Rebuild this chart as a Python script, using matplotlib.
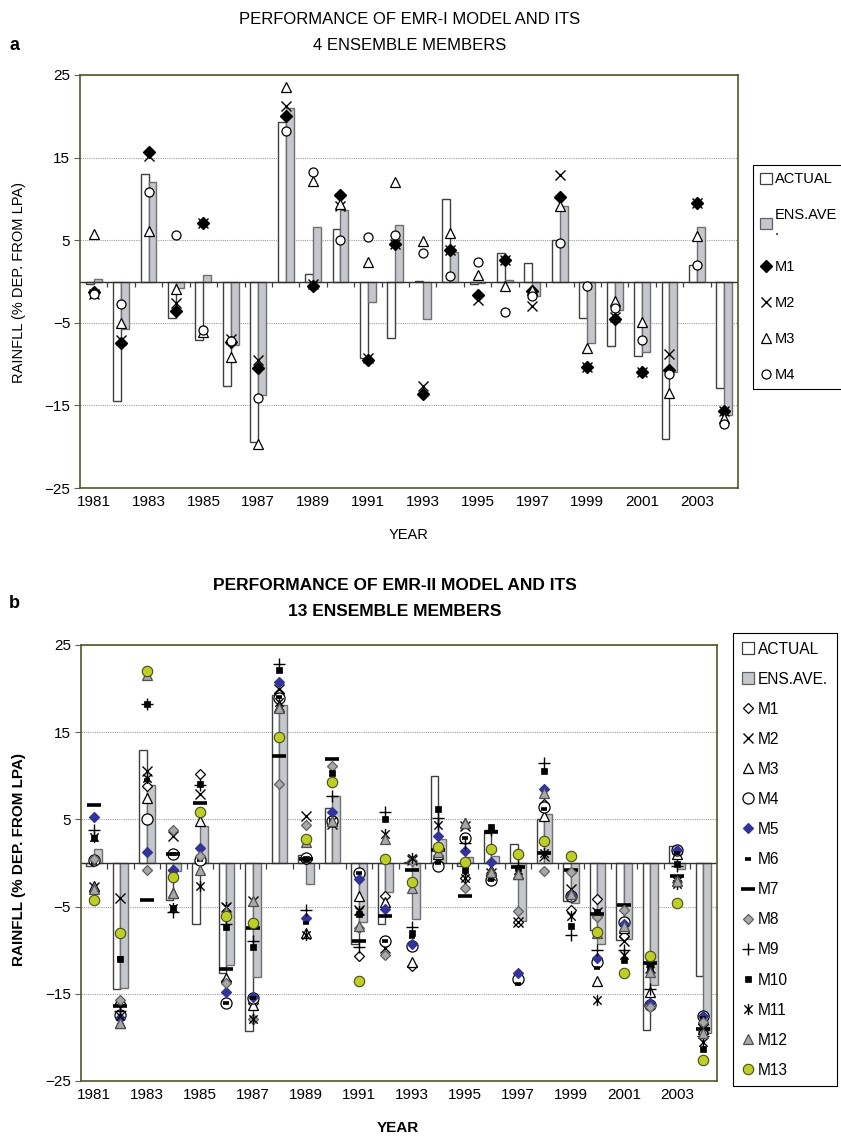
import numpy as np
import matplotlib
matplotlib.use("Agg")
import matplotlib.pyplot as plt
from matplotlib.patches import Patch
from matplotlib.path import Path

plt.rcParams['font.family'] = ['Liberation Sans', 'DejaVu Sans']

years = list(range(1981, 2005))

# ---------------- Panel a data (EMR-I) ----------------
a_actual = [-0.3, -14.5, 13.0, -4.4, -7.1, -12.7, -19.4, 19.3, 0.9, 6.3, -9.3, -6.9,
            0.1, 10.0, -0.3, 3.5, 2.2, 5.0, -4.4, -7.8, -9.0, -19.1, 2.0, -12.9]
a_ens = [0.3, -5.8, 12.0, -0.8, 0.8, -7.7, -13.7, 21.0, 6.6, 8.6, -2.5, 6.9,
         -4.5, 3.6, -0.2, 0.2, -1.8, 9.2, -7.4, -3.5, -8.5, -11.0, 6.6, -16.2]
a_m1 = [-1.3, -7.4, 15.7, -3.6, 7.1, -7.3, -10.5, 20.0, -0.5, 10.5, -9.5, 4.6,
        -13.6, 3.8, -1.6, 2.6, -1.2, 10.2, -10.4, -4.5, -11.0, -10.7, 9.5, -15.7]
a_m2 = [-1.5, -7.1, 15.2, -2.6, 7.1, -7.0, -9.5, 21.2, -0.3, 9.2, -9.3, 4.5,
        -12.6, 3.8, -2.2, 2.6, -3.0, 12.9, -10.4, -4.3, -11.0, -8.8, 9.5, -15.7]
a_m3 = [5.7, -5.0, 6.1, -0.9, -6.1, -9.1, -19.7, 23.6, 12.2, 9.4, 2.4, 12.1,
        4.9, 5.9, 0.8, -0.5, -1.0, 9.1, -8.0, -2.4, -4.9, -13.5, 5.5, -16.5]
a_m4 = [-1.5, -2.7, 10.8, 5.6, -5.9, -7.2, -14.1, 18.2, 13.2, 5.0, 5.4, 5.6,
        3.5, 0.7, 2.4, -3.7, -1.8, 4.7, -0.6, -3.2, -7.1, -11.2, 2.0, -17.2]

# ---------------- Panel b data (EMR-II) ----------------
b_actual = [-0.3, -14.5, 13.0, -4.3, -7.0, -12.6, -19.3, 19.3, 0.9, 6.3, -9.3, -7.0,
            0.1, 10.0, -0.3, 3.4, 2.2, 5.0, -4.4, -7.7, -8.8, -19.2, 2.0, -13.0]
b_ens = [1.6, -14.3, 9.0, -0.9, 4.2, -11.7, -13.1, 18.1, -2.4, 7.7, -6.8, -3.3,
         -6.4, 2.7, 0.7, 0.8, -6.7, 5.6, -4.6, -9.3, -8.7, -14.0, -0.7, -19.5]
b_m1 = [0.3, -16.1, 8.8, -0.8, 10.2, -13.5, -16.0, 19.5, 0.5, 5.0, -10.7, -3.8,
        -11.8, 0.0, -1.7, -1.5, -6.8, 6.8, -5.4, -4.1, -8.4, -16.3, 1.2, -18.5]
b_m2 = [-2.8, -4.0, 10.6, 3.1, 7.9, -5.0, -4.4, 20.0, 5.4, 4.5, -5.4, -9.8,
        0.4, 0.4, 4.2, -1.2, -6.8, 0.8, -3.0, -5.6, -9.0, -12.0, -2.1, -18.8]
b_m3 = [-2.6, -18.4, 7.4, -3.4, 4.8, -13.2, -16.3, 17.9, -8.0, 4.8, -3.8, -4.5,
        -11.4, 1.0, 4.6, -0.8, -1.3, 5.4, -3.4, -13.5, -7.5, -14.8, 1.0, -19.0]
b_m4 = [0.3, -17.4, 5.1, 1.0, 0.3, -16.1, -15.5, 18.9, 0.6, 4.8, -1.1, -8.9,
        -9.5, -0.3, 2.9, -1.9, -13.3, 6.4, -3.8, -11.3, -6.8, -16.3, 1.5, -17.6]
b_m5 = [5.3, -17.8, 1.3, -0.8, 1.7, -14.8, -15.4, 20.8, -6.3, 5.8, -1.8, -5.3,
        -9.3, 3.1, 1.4, 0.1, -12.6, 8.5, -3.7, -10.9, -7.0, -16.1, 1.5, -17.6]
b_m6 = [0.0, -10.9, 9.5, 1.0, 0.3, -16.1, -15.5, 19.0, -6.9, 4.8, -1.1, -8.9,
        -8.5, 0.0, 2.9, -1.9, -13.9, 6.2, -3.8, -12.0, -7.5, -16.5, 1.2, -17.8]
b_m7 = [6.6, -16.4, -4.3, 1.0, 6.9, -12.1, -7.5, 12.3, 0.5, 11.9, -9.0, -6.1,
        -0.8, 1.5, -3.8, 3.6, -0.5, 1.2, -0.8, -5.8, -4.8, -11.5, -1.5, -19.0]
b_m8 = [0.5, -15.7, -0.8, 3.8, 0.8, -13.8, -17.9, 9.1, 4.4, 11.1, -7.4, -10.6,
        0.2, 1.5, -2.9, -1.2, -5.5, -0.9, -1.0, -6.2, -5.4, -16.5, -2.2, -18.2]
b_m9 = [3.8, -17.0, 18.2, -5.6, 8.9, -7.0, -9.0, 22.8, -5.4, 7.7, -9.6, 5.9,
        -7.3, 5.2, 2.3, 3.8, -0.3, 11.5, -8.2, -10.0, -10.0, -14.5, -0.3, -19.8]
b_m10 = [2.9, -11.0, 18.2, -5.2, 9.1, -7.3, -9.6, 22.1, 0.5, 10.3, -5.9, 5.1,
         -8.0, 6.2, -0.8, 4.1, -0.6, 10.5, -7.2, -5.6, -11.1, -12.0, -0.1, -21.3]
b_m11 = [3.0, -17.6, 9.8, -5.2, -2.6, -5.0, -17.9, 18.5, -8.2, 4.8, -5.5, 3.3,
         0.6, 4.4, -1.7, -1.5, -0.8, 1.2, -6.1, -15.7, -10.5, -11.5, -2.4, -20.5]
b_m12 = [-3.0, -18.4, 21.6, -3.4, -0.8, -5.5, -4.4, 17.8, 2.4, 4.8, -7.2, 2.7,
         -2.9, 1.3, 4.6, -1.0, -1.3, 8.0, -3.6, -8.0, -7.2, -12.5, -2.1, -19.5]
b_m13 = [-4.3, -8.0, 22.0, -1.6, 5.9, -6.1, -6.9, 14.4, 2.7, 9.3, -13.5, 0.5,
         -2.2, 1.8, 0.1, 1.6, 1.0, 2.5, 0.8, -7.9, -12.6, -10.7, -4.6, -22.6]

a_labels = ["ACTUAL", "ENS.AVE\n.", "M1", "M2", "M3", "M4"]
b_labels = ["ACTUAL", "ENS.AVE.", "M1", "M2", "M3", "M4", "M5", "M6", "M7",
            "M8", "M9", "M10", "M11", "M12", "M13"]

SPINE = '#55552a'
BARGRAY = '#c4c8cc'
W = 0.29

# asterisk: X with a vertical stroke
ASTER = Path([(0, -1), (0, 1), (-0.75, -0.75), (0.75, 0.75), (-0.75, 0.75), (0.75, -0.75)],
             [Path.MOVETO, Path.LINETO, Path.MOVETO, Path.LINETO, Path.MOVETO, Path.LINETO])

a_styles = [
    dict(marker='D', ms=6.5, mfc='black', mec='black'),
    dict(marker='x', ms=7.5, mfc='black', mec='black', mew=1.0),
    dict(marker='^', ms=7, mfc='white', mec='black', mew=0.9),
    dict(marker='o', ms=6.5, mfc='white', mec='black', mew=0.9),
]
b_styles = [
    dict(marker='D', ms=5.5, mfc='white', mec='black', mew=0.9),
    dict(marker='x', ms=7, mfc='black', mec='black', mew=1.0),
    dict(marker='^', ms=7, mfc='white', mec='black', mew=0.9),
    dict(marker='o', ms=8, mfc='white', mec='black', mew=0.9),
    dict(marker='D', ms=5.5, mfc='#33339a', mec='#33339a', mew=0.9),
    dict(marker='_', ms=5, mfc='black', mec='black', mew=2.6),
    dict(marker='_', ms=10, mfc='black', mec='black', mew=2.6),
    dict(marker='D', ms=5.5, mfc='#a8a8a8', mec='#606060', mew=0.9),
    dict(marker='+', ms=9, mfc='black', mec='black', mew=1.0),
    dict(marker='s', ms=5, mfc='black', mec='black', mew=0.5),
    dict(marker=ASTER, ms=8, mfc='black', mec='black', mew=1.0),
    dict(marker='^', ms=7, mfc='#a8a8a8', mec='#505050', mew=0.9),
    dict(marker='o', ms=7.5, mfc='#bccf24', mec='#4a4a20', mew=0.8),
]


def draw_panel(ax, actual, ens, members, styles):
    x = np.arange(len(years))
    ax.bar(x - W / 2, actual, W, color='white', edgecolor='#404040', lw=1.0, zorder=2)
    ax.bar(x + W / 2, ens, W, color=BARGRAY, edgecolor='#707070', lw=1.0, zorder=2)
    ax.axhline(0, color='#303030', lw=1.0, zorder=2.5)
    ax.vlines(x[:-1] + 0.5, -0.7, 0, color='#404040', lw=0.9, zorder=2.5)
    handles = []
    for k, (m, st) in enumerate(zip(members, styles)):
        ln, = ax.plot(x, m, ls='none', zorder=3 + k * 0.01, **st)
        handles.append(ln)
    ax.set_xlim(-0.5, len(years) - 0.5)
    ax.set_ylim(-25, 25)
    ax.set_yticks([-25, -15, -5, 5, 15, 25])
    ax.set_xticks(x[::2])
    ax.set_xticklabels([str(y) for y in years[::2]], fontsize=11)
    ax.tick_params(axis='x', length=0, pad=5)
    ax.tick_params(axis='y', length=4, direction='out', labelsize=11, color='#606060', pad=3)
    ax.yaxis.grid(True, linestyle=(0, (1, 1)), color='#a0a0a0', lw=0.8)
    ax.set_axisbelow(True)
    for sp in ax.spines.values():
        sp.set_color(SPINE)
        sp.set_linewidth(1.2)
    return handles


fig = plt.figure(figsize=(8.41, 11.39), dpi=100)
FW, FH = 841.0, 1139.0

axA = fig.add_axes([80 / FW, 1 - 488 / FH, 658 / FW, 413 / FH])
hA = draw_panel(axA, a_actual, a_ens, [a_m1, a_m2, a_m3, a_m4], a_styles)

axB = fig.add_axes([80.7 / FW, 1 - 1081 / FH, 636 / FW, 436 / FH])
hB = draw_panel(axB, b_actual, b_ens,
                [b_m1, b_m2, b_m3, b_m4, b_m5, b_m6, b_m7, b_m8, b_m9, b_m10,
                 b_m11, b_m12, b_m13], b_styles)

bar_h = [Patch(facecolor='white', edgecolor='#404040', lw=0.9),
         Patch(facecolor=BARGRAY, edgecolor='#606060', lw=0.9)]

legA = fig.legend(bar_h + hA, a_labels, loc='upper left',
                  bbox_to_anchor=(753 / FW, 1 - 165 / FH), fontsize=10.5,
                  frameon=True, fancybox=False, edgecolor='black', framealpha=1,
                  handlelength=0.8, handleheight=0.8, handletextpad=0.2,
                  labelspacing=1.5, borderpad=0.5, borderaxespad=0)
legA.get_frame().set_linewidth(0.8)

legB = fig.legend(bar_h + hB, b_labels, loc='upper left',
                  bbox_to_anchor=(733 / FW, 1 - 633 / FH), fontsize=11.2,
                  frameon=True, fancybox=False, edgecolor='black', framealpha=1,
                  handlelength=0.8, handleheight=0.8, handletextpad=0.25,
                  labelspacing=0.97, borderpad=0.55, borderaxespad=0)
legB.get_frame().set_linewidth(0.8)

# titles and labels
fig.text(410 / FW, 1 - 20 / FH, "PERFORMANCE OF EMR-I MODEL AND ITS", ha='center', va='center', fontsize=12)
fig.text(410 / FW, 1 - 46 / FH, "4 ENSEMBLE MEMBERS", ha='center', va='center', fontsize=12)
fig.text(14 / FW, 1 - 46 / FH, "a", ha='center', va='center', fontsize=13, fontweight='bold')
fig.text(395 / FW, 1 - 585 / FH, "PERFORMANCE OF EMR-II MODEL AND ITS", ha='center', va='center',
         fontsize=12.5, fontweight='bold')
fig.text(395 / FW, 1 - 612 / FH, "13 ENSEMBLE MEMBERS", ha='center', va='center',
         fontsize=12.5, fontweight='bold')
fig.text(14 / FW, 1 - 603 / FH, "b", ha='center', va='center', fontsize=13, fontweight='bold')

fig.text(19 / FW, 1 - 282 / FH, "RAINFLL (% DEP. FROM LPA)", rotation=90, ha='center', va='center', fontsize=10.5)
fig.text(19 / FW, 1 - 860 / FH, "RAINFLL (% DEP. FROM LPA)", rotation=90, ha='center', va='center',
         fontsize=11, fontweight='bold')
fig.text(409 / FW, 1 - 535 / FH, "YEAR", ha='center', va='center', fontsize=10.5)
fig.text(398 / FW, 1 - 1128 / FH, "YEAR", ha='center', va='center', fontsize=11, fontweight='bold')

fig.savefig("out.png", dpi=100)
